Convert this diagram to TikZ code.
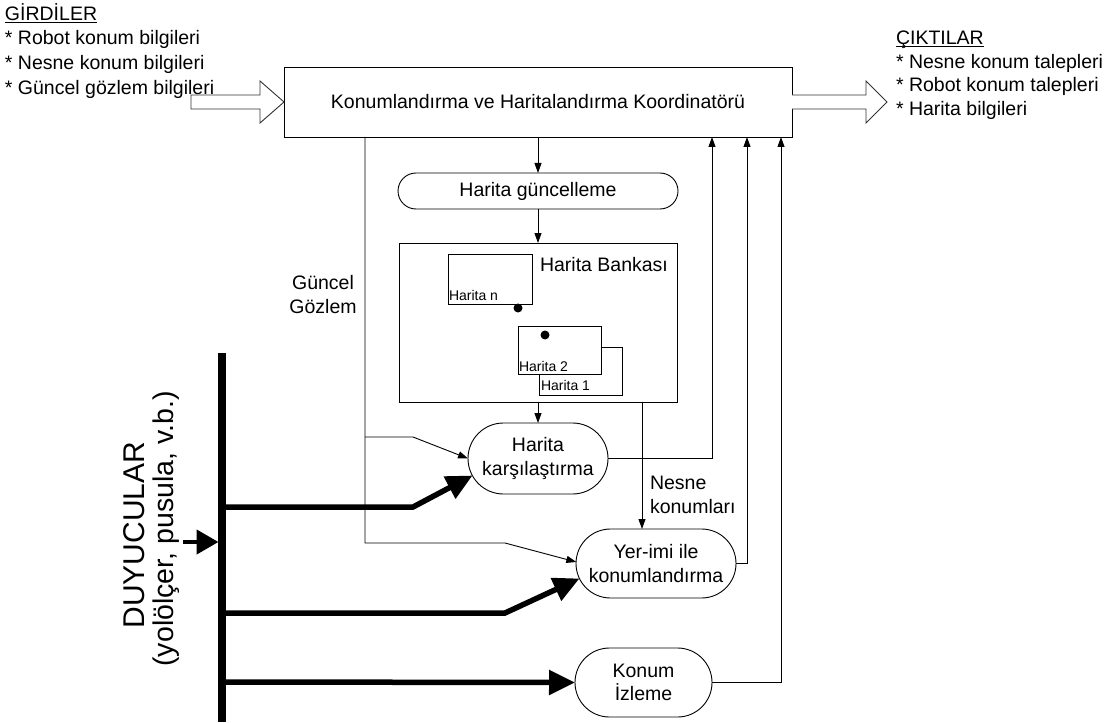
\documentclass[tikz,border=0pt]{standalone}
\usepackage{fontspec}
\setmainfont{Liberation Sans}
\usetikzlibrary{arrows.meta,calc}
\newcommand\headline[1]{\underline{\smash{#1}}}
\begin{document}
\begin{tikzpicture}[x=1pt,y=-1pt,
  every node/.style={inner sep=0pt, outer sep=0pt},
  txt/.style={font=\fontsize{19.5}{23.5}\selectfont},
  small/.style={font=\fontsize{14}{16}\selectfont},
  big/.style={font=\fontsize{30}{36}\selectfont},
  sub/.style={font=\fontsize{28.5}{34}\selectfont},
  box/.style={draw, line width=0.9pt, fill=white},
  stadium/.style={box, txt, align=center, rounded corners=#1},
  flow/.style={line width=0.9pt, -{Triangle[length=10pt,width=7pt]}},
  hollow/.style={draw=black!80, line width=0.9pt, fill=white},
  sense/.style={line width=5.5pt, line join=miter, -{Triangle[length=26pt,width=24pt]}},
]
\useasboundingbox (0,0) rectangle (1115,722);

% inputs and outputs
\node[txt, anchor=base west] (in0) at (5,21) {\headline{GİRDİLER}};
\node[txt, anchor=base west] (in1) at (5,45) {* Robot konum bilgileri};
\node[txt, anchor=base west] (in2) at (5,70) {* Nesne konum bilgileri};
\node[txt, anchor=base west] (in3) at (5,95) {* Güncel gözlem bilgileri};

\node[txt, anchor=base west] (out0) at (896,45) {\headline{ÇIKTILAR}};
\node[txt, anchor=base west] (out1) at (896,68.5) {* Nesne konum talepleri};
\node[txt, anchor=base west] (out2) at (896,92) {* Robot konum talepleri};
\node[txt, anchor=base west] (out3) at (896,115.5) {* Harita bilgileri};

% coordinator
\node[box, txt, minimum width=508pt, minimum height=70pt] (coord) at (538,102)
  {Konumlandırma ve Haritalandırma Koordinatörü};

% block arrows in and out
\draw[hollow] (191,95) -- (260,95) -- (260,81) -- (coord.west) -- (260,123)
  -- (260,109) -- (191,109) -- cycle;
\draw[hollow] ($(coord.east)+(0,-7)$) -- ++(74,0) -- ++(0,-14) -- ++(21,21)
  -- ++(-21,21) -- ++(0,-14) -- ++(-74,0);

% map update and map bank
\node[stadium=18pt, minimum width=280pt, minimum height=36pt] (upd) at (538,191) {Harita güncelleme};
\node[box, minimum width=278pt, minimum height=159pt] (bank) at (538,322.5) {};
\node[txt, anchor=west] (banklbl) at (540,265) {Harita Bankası};

\node[box, minimum width=84pt, minimum height=50pt] (mapn) at (490,279) {};
\node[small, anchor=west] (mapnlbl) at (449,295) {Harita n};
\node[box, minimum width=83pt, minimum height=48pt] (map1) at (580.5,371) {};
\node[small, anchor=west] (map1lbl) at (541,385) {Harita 1};
\node[box, minimum width=83pt, minimum height=48pt] (map2) at (559.5,350) {};
\node[small, anchor=west] (map2lbl) at (519,366) {Harita 2};
\fill (518,308) circle (4.5);
\fill (545,335) circle (4.5);

% processing blocks
\node[stadium=35.5pt, minimum width=140pt, minimum height=71pt] (cmp) at (538,458.5) {Harita\\karşılaştırma};
\node[stadium=34.5pt, minimum width=160pt, minimum height=69pt] (yi) at (656,563.5) {Yer-imi ile\\konumlandırma};
\node[stadium=34.5pt, minimum width=137pt, minimum height=69pt] (ki) at (643.5,682.5) {Konum\\İzleme};

% internal flows
\draw[flow] (coord.south) -- (upd.north);
\draw[flow] (upd.south) -- (bank.north);
\draw[flow] (bank.south) -- (cmp.north);
\coordinate (nk) at ([xshift=104pt]bank.south);
\draw[flow] (nk) -- (nk |- yi.north);
\node[txt, align=left, anchor=west] (nklbl) at (650,495) {Nesne\\konumları};

\draw[flow] (cmp.east) -| ([xshift=174pt]coord.south);
\draw[flow] (yi.east) -| ([xshift=209pt]coord.south);
\draw[flow] (ki.east) -| ([xshift=243pt]coord.south);

% current observation
\coordinate (gtop) at ([xshift=-173pt]coord.south);
\coordinate (gmid) at (365,437);
\coordinate (gbot) at (365,543);
\draw[flow] (gtop) -- (gbot) -- ++(140,0) -- ($(yi.west)+(0.3,-1.5)$);
\draw[flow] (gmid) -- ++(48,0) -- (cmp.west);
\node[txt, align=center] (glbl) at (323,294.5) {Güncel\\Gözlem};

% sensors bus
\coordinate (bt) at (222,353);
\coordinate (bb) at (222,722);
\coordinate (b1) at (222,507);
\coordinate (b2) at (222,613);
\coordinate (b3) at (222,682);
\coordinate (bin) at (183,542);
\draw[line width=7.5pt] (bt) -- (bb);
\draw[line width=4.5pt, -{Triangle[length=22pt,width=24pt]}] (bin) -- (218.5,542);
\draw[sense] (b1) -- (413,507) -- ($(cmp.west)+(4.5,17)$);
\draw[sense] (b2) -- (505,613) -- ($(yi.west)+(3.5,15)$);
\draw[sense] (b3) -- (ki.west);

\node[big, rotate=90] (duy) at (134,535) {DUYUCULAR};
\node[sub, rotate=90] (duysub) at (166,529) {(yolölçer, pusula, v.b.)};
\end{tikzpicture}
\end{document}
